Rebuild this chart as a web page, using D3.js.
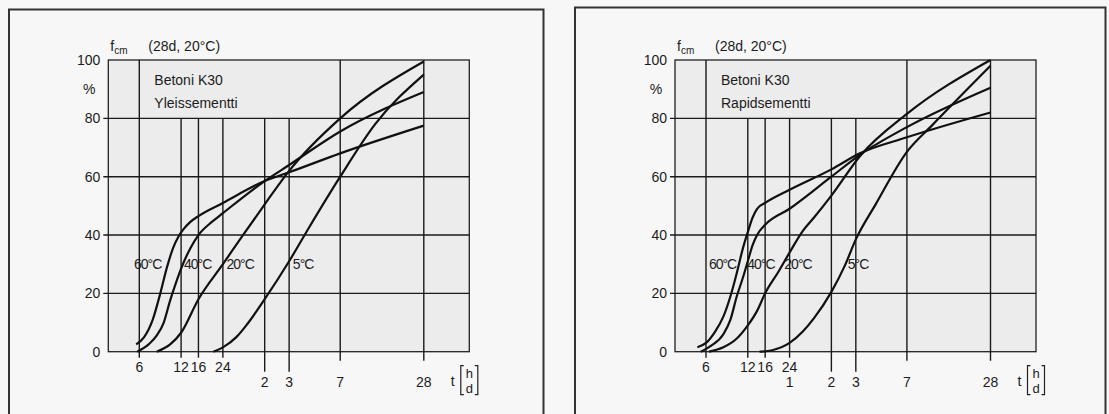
<!DOCTYPE html>
<html lang="fi">
<head>
<meta charset="UTF-8">
<title>Betoni K30 lujuuden kehitys</title>
<style>
  * {padding:0; margin:0;}
  body {background:#f7f7f7; width:1109px; height:414px; overflow:hidden;}
  svg {display:block; font-family:"Liberation Sans", Arial, sans-serif;}
  text {fill:#1c1c1c;}
  .frame {fill:none; stroke:#333; stroke-width:2px;}
  .plotBg {fill:#ececec; stroke:#222; stroke-width:1.3px;}
  .grid {stroke:#1a1a1a; stroke-width:1.4px;}
  .curve {fill:none; stroke:#111; stroke-width:2.2px; stroke-linejoin:round;}
  .tick {font-size:14px;}
  .note {font-size:14px;}
  .temp {font-size:14px; letter-spacing:-1px;}
  .hd {font-size:13px;}
</style>
</head>
<body>
<script src="https://d3js.org/d3.v7.min.js"></script>
<svg id="chart" width="1109" height="414"></svg>
<script>
// x-akseli: aika tunteina (log), merkinnät h / d
var hourTicks = [6, 12, 16, 24, 48, 72, 168, 672];
var tickRow1 = ["6", "12", "16", "24", "", "", "", ""];
var tickRow2Left = ["", "", "", "", "2", "3", "7", "28"];
var tickRow2Right = ["", "", "", "1", "2", "3", "7", "28"];
var fullHeight = [true, false, false, false, false, false, true, true];
var yTicks = [0, 20, 40, 60, 80, 100];
var tempNames = ["60°C", "40°C", "20°C", "5°C"];

// Yleissementti  [tunnit, %]
var yleis60 = [[5.7,2.5],[6.5,5],[7.5,11],[8.5,20],[9.5,29],[10.5,35.5],[11.5,39.5],[12.5,42],[14,44.5],[16,46.5],[24,51],[48,58.5],[72,61.5],[168,68],[672,77.5]];
var yleis40 = [[5.8,0],[7,2.5],[8,5.5],[9,10],[10,17.5],[11,23.5],[12,28.5],[14,35.5],[16,40],[20,44.5],[24,47.5],[48,58.5],[72,64],[168,75.5],[672,89]];
var yleis20 = [[8,0],[10,2.5],[12,6.5],[16,18],[24,30],[33,39.5],[48,50.5],[72,62],[168,80],[672,99.5]];
var yleis5 = [[20.5,0],[24,1.5],[30,5],[36,9.5],[48,18],[72,31],[100,42.5],[168,60],[300,78],[672,95]];

// Rapidsementti  [tunnit, %]
var rapid60 = [[5.2,1.5],[6,3],[7,7],[8,12],[9,19],[10,27],[11,35],[12,41],[13,46],[14,49],[16,51],[24,55.5],[48,62.5],[77,68],[168,73.5],[672,82]];
var rapid40 = [[5.5,0],[6.5,2],[8,6],[9,11],[10,19],[11,25],[12,31],[13,36.5],[14,40],[16,43.5],[24,49],[48,60],[77,67.5],[168,77],[672,90.5]];
var rapid20 = [[6.3,0],[8,1.5],[10,4.5],[12,9],[14,14],[16,20],[20,27.5],[24,34],[30,41.5],[36,46],[48,53.5],[77,67],[168,81.5],[672,100]];
var rapid5 = [[14.6,0],[18,0.5],[24,3],[30,7],[36,11.5],[48,20.5],[60,29.5],[72,38.5],[100,50.5],[168,68.5],[254,77.5],[672,98]];

var panels = [
  {name: "Yleissementti", frameX: 9, frameW: 534.5, frameY: 9.5, plotX: 108.3,
   series: [yleis60, yleis40, yleis20, yleis5], labelHours: [5.5, 12.6, 25.5, 76.6], row2: tickRow2Left},
  {name: "Rapidsementti", frameX: 575, frameW: 530.5, frameY: 7.5, plotX: 675,
   series: [rapid60, rapid40, rapid20, rapid5], labelHours: [6.3, 11.9, 22, 63], row2: tickRow2Right}
];

var plotTop = 60, plotW = 361, plotH = 291.7;
var svg = d3.select("#chart");

var x = d3.scaleLog().domain([6, 672]).range([31, 315.5]);
var y = d3.scaleLinear().domain([0, 100]).range([plotH, 0]);
var line = d3.line()
  .x(function(d){ return x(d[0]); })
  .y(function(d){ return y(d[1]); })
  .curve(d3.curveMonotoneX);

panels.forEach(function(p){
  // kehys
  svg.append("path").attr("class", "frame")
    .attr("d", "M" + p.frameX + ",414V" + p.frameY + "H" + (p.frameX + p.frameW) + "V414");

  var g = svg.append("g").attr("transform", "translate(" + p.plotX + "," + plotTop + ")");

  g.append("rect").attr("class", "plotBg")
    .attr("width", plotW).attr("height", plotH);

  // vaakaviivat
  g.selectAll(".hgrid").data(yTicks.filter(function(v){ return v > 0 && v < 100; }))
    .enter().append("line").attr("class", "grid")
    .attr("x1", -5).attr("x2", plotW)
    .attr("y1", function(d){ return y(d); }).attr("y2", function(d){ return y(d); });

  // pystyviivat
  g.selectAll(".vgrid").data(hourTicks)
    .enter().append("line").attr("class", "grid")
    .attr("x1", function(d){ return x(d); }).attr("x2", function(d){ return x(d); })
    .attr("y1", function(d, i){ return fullHeight[i] ? 0 : y(80); })
    .attr("y2", function(d, i){ return plotH + (p.row2[i] && !tickRow1[i] ? (i >= 6 ? 9 : 20) : 6); });

  // y-akselin luvut
  g.selectAll(".ylab").data(yTicks)
    .enter().append("text").attr("class", "tick")
    .attr("text-anchor", "end")
    .attr("x", -8).attr("y", function(d){ return y(d) + 5; })
    .text(function(d){ return d; });

  // x-akselin luvut
  g.selectAll(".xlab1").data(hourTicks)
    .enter().append("text").attr("class", "tick")
    .attr("text-anchor", "middle")
    .attr("x", function(d){ return x(d); }).attr("y", plotH + 20.5)
    .text(function(d, i){ return tickRow1[i]; });
  g.selectAll(".xlab2").data(hourTicks)
    .enter().append("text").attr("class", "tick")
    .attr("text-anchor", "middle")
    .attr("x", function(d){ return x(d); }).attr("y", plotH + 35.5)
    .text(function(d, i){ return p.row2[i]; });

  // t [h/d]
  var tx = x(672) + 29;
  g.append("text").attr("class", "tick").attr("text-anchor", "middle")
    .attr("x", tx).attr("y", plotH + 34).text("t");
  var bx = tx + 8, by0 = plotH + 14, by1 = plotH + 43;
  g.append("path").attr("fill", "none").attr("stroke", "#222").attr("stroke-width", 1.2)
    .attr("d", "M" + (bx + 3) + "," + by0 + "H" + bx + "V" + by1 + "H" + (bx + 3) +
               "M" + (bx + 14) + "," + by0 + "H" + (bx + 17) + "V" + by1 + "H" + (bx + 14));
  g.append("text").attr("class", "hd").attr("text-anchor", "middle")
    .attr("x", bx + 8.5).attr("y", plotH + 26).text("h");
  g.append("text").attr("class", "hd").attr("text-anchor", "middle")
    .attr("x", bx + 8.5).attr("y", plotH + 41).text("d");

  // otsikot
  var f = g.append("text").attr("class", "note").attr("x", 2).attr("y", -9);
  f.append("tspan").text("f");
  f.append("tspan").attr("font-size", "10px").attr("dy", 3).text("cm");
  g.append("text").attr("class", "note").attr("x", 40).attr("y", -9).text("(28d, 20°C)");
  g.append("text").attr("class", "tick").attr("text-anchor", "middle")
    .attr("x", -19).attr("y", 34).text("%");
  g.append("text").attr("class", "note").attr("x", 46).attr("y", 25).text("Betoni K30");
  g.append("text").attr("class", "note").attr("x", 46).attr("y", 48).text(p.name);

  // käyrät
  g.selectAll(".curve").data(p.series)
    .enter().append("path").attr("class", "curve")
    .attr("d", line);

  // lämpötilat
  g.selectAll(".templab").data(tempNames)
    .enter().append("text").attr("class", "temp")
    .attr("x", function(d, i){ return x(p.labelHours[i]); })
    .attr("y", y(30) + 5)
    .text(function(d){ return d; });
});
</script>
</body>
</html>
